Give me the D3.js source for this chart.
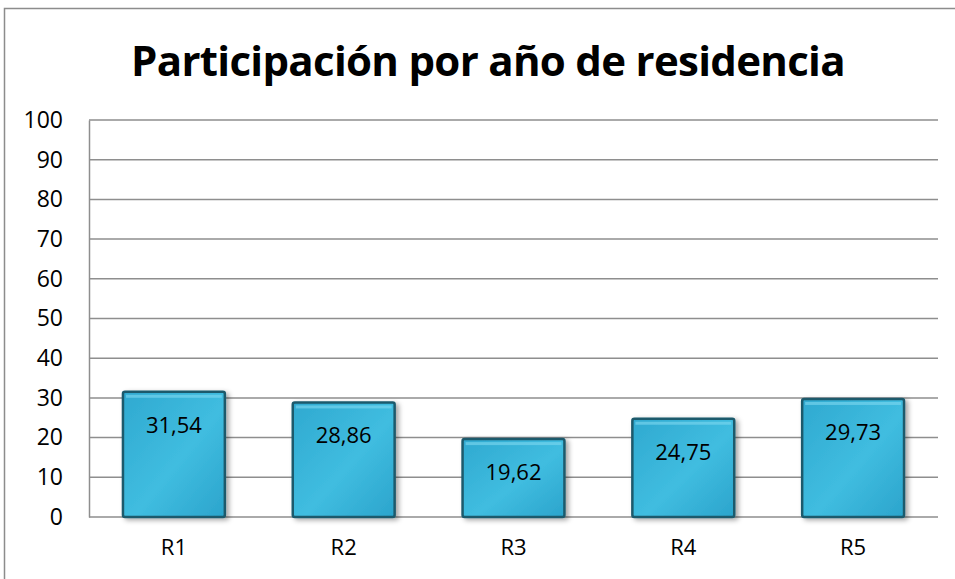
<!DOCTYPE html>
<html>
<head>
<meta charset="utf-8">
<script src="https://cdn.jsdelivr.net/npm/d3@7"></script>
<style>
  body { margin: 0; background: #fff; }
  svg { display: block; }
</style>
</head>
<body>
<svg id="chart"></svg>
<script>
// Chart data
const categories = ["R1", "R2", "R3", "R4", "R5"];
const values = [31.54, 28.86, 19.62, 24.75, 29.73];
const yTicks = [0, 10, 20, 30, 40, 50, 60, 70, 80, 90, 100];
const chartTitle = "Participación por año de residencia";

const W = 955, H = 579;
const margin = { top: 120, right: 17, bottom: 62, left: 89 };
const width = W - margin.left - margin.right;
const height = H - margin.top - margin.bottom;
const font = "Open Sans, sans-serif";

const svg = d3.select("#chart")
  .attr("width", W)
  .attr("height", H);

// Bar gradient and shadow
const defs = svg.append("defs");
const grad = defs.append("linearGradient")
  .attr("id", "barGrad")
  .attr("x1", "0").attr("y1", "0").attr("x2", "1").attr("y2", "1");
grad.append("stop").attr("offset", "0%").attr("stop-color", "#2fa9d0");
grad.append("stop").attr("offset", "55%").attr("stop-color", "#40bde0");
grad.append("stop").attr("offset", "100%").attr("stop-color", "#2ba4cc");

const filt = defs.append("filter").attr("id", "shadow")
  .attr("x", "-20%").attr("y", "-20%").attr("width", "140%").attr("height", "140%");
filt.append("feDropShadow")
  .attr("dx", 3).attr("dy", 2).attr("stdDeviation", 2.5)
  .attr("flood-color", "#000").attr("flood-opacity", 0.35);

// Outer frame (top and left edges visible)
svg.append("path")
  .attr("d", `M4.5,${H} V8.5 H${W}`)
  .attr("fill", "none")
  .attr("stroke", "#8c8c8c")
  .attr("stroke-width", 1.5);

// Title
svg.append("text")
  .attr("x", 488)
  .attr("y", 76)
  .attr("text-anchor", "middle")
  .style("font-family", font)
  .style("font-size", "42px")
  .style("font-weight", "bold")
  .style("letter-spacing", "-0.7px")
  .text(chartTitle);

const g = svg.append("g")
  .attr("transform", `translate(${margin.left},${margin.top})`);

const x = d3.scaleBand()
  .domain(categories)
  .range([0, width])
  .paddingInner(0.4)
  .paddingOuter(0.2);

const y = d3.scaleLinear()
  .domain([0, 100])
  .range([height, 0]);

// Gridlines
g.append("g")
  .selectAll("line")
  .data(yTicks)
  .enter()
  .append("line")
  .attr("x1", 0)
  .attr("x2", width)
  .attr("y1", d => y(d))
  .attr("y2", d => y(d))
  .attr("stroke", "#8e8e8e")
  .attr("stroke-width", 1.5);

// Y axis
const yAxis = g.append("g")
  .call(d3.axisLeft(y).tickValues(yTicks).tickSize(0).tickPadding(26));
yAxis.select(".domain").attr("stroke", "#8e8e8e").attr("stroke-width", 1.5);
yAxis.selectAll("text")
  .style("font-family", font)
  .style("font-size", "23px")
  .attr("fill", "#000");

// X axis labels
const xAxis = g.append("g")
  .attr("transform", `translate(0,${height})`)
  .call(d3.axisBottom(x).tickSize(0).tickPadding(22));
xAxis.select(".domain").remove();
xAxis.selectAll("text")
  .style("font-family", font)
  .style("font-size", "22px")
  .attr("fill", "#000");

// Bars
const bars = g.selectAll(".bar")
  .data(values)
  .enter()
  .append("g")
  .attr("class", "bar");

bars.append("rect")
  .attr("x", (d, i) => x(categories[i]))
  .attr("y", d => y(d))
  .attr("width", x.bandwidth())
  .attr("height", d => height - y(d))
  .attr("rx", 2)
  .attr("fill", "url(#barGrad)")
  .attr("stroke", "#1d5a6c")
  .attr("stroke-width", 2.5)
  .attr("filter", "url(#shadow)");

// Bevel highlight
bars.append("rect")
  .attr("x", (d, i) => x(categories[i]) + 3)
  .attr("y", d => y(d) + 3)
  .attr("width", x.bandwidth() - 6)
  .attr("height", 3)
  .attr("fill", "#7fd8f0")
  .attr("opacity", 0.6);

// Value labels
bars.append("text")
  .attr("x", (d, i) => x(categories[i]) + x.bandwidth() / 2)
  .attr("y", d => y(d) + 41)
  .attr("text-anchor", "middle")
  .style("font-family", font)
  .style("font-size", "22px")
  .attr("fill", "#000")
  .text(d => d.toFixed(2).replace(".", ","));
</script>
</body>
</html>
